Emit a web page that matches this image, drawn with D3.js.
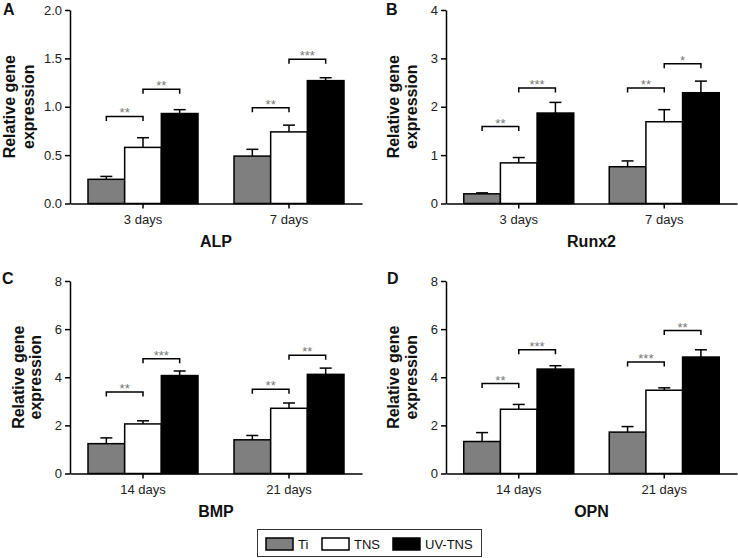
<!DOCTYPE html>
<html>
<head>
<meta charset="utf-8">
<script src="https://cdn.jsdelivr.net/npm/d3@7"></script>
<style>
  html, body { margin: 0; padding: 0; background: #fff; }
  svg { display: block; font-family: "Liberation Sans", Arial, Helvetica, sans-serif; }
</style>
</head>
<body>
<svg id="chart" width="738" height="558"></svg>
<script>
// ---------- data ----------
const seriesNames = ["Ti", "TNS", "UV-TNS"];

const alpCategories = ["3 days", "7 days"];
const alpMeans  = [[0.25, 0.58, 0.93], [0.49, 0.74, 1.27]];
const alpErrors = [[0.03, 0.10, 0.04], [0.07, 0.07, 0.03]];
const alpSig = [
  { group: 0, from: 0, to: 1, level: 0.90, label: "**" },
  { group: 0, from: 1, to: 2, level: 1.18, label: "**" },
  { group: 1, from: 0, to: 1, level: 0.99, label: "**" },
  { group: 1, from: 1, to: 2, level: 1.49, label: "***" }
];
const alpTicks = [0, 0.5, 1.0, 1.5, 2.0];

const runxCategories = ["3 days", "7 days"];
const runxMeans  = [[0.20, 0.84, 1.87], [0.76, 1.69, 2.29]];
const runxErrors = [[0.02, 0.11, 0.22], [0.12, 0.25, 0.24]];
const runxSig = [
  { group: 0, from: 0, to: 1, level: 1.59, label: "**" },
  { group: 0, from: 1, to: 2, level: 2.39, label: "***" },
  { group: 1, from: 0, to: 1, level: 2.39, label: "**" },
  { group: 1, from: 1, to: 2, level: 2.89, label: "*" }
];
const runxTicks = [0, 1, 2, 3, 4];

const bmpCategories = ["14 days", "21 days"];
const bmpMeans  = [[1.24, 2.06, 4.07], [1.40, 2.71, 4.12]];
const bmpErrors = [[0.24, 0.13, 0.19], [0.18, 0.22, 0.26]];
const bmpSig = [
  { group: 0, from: 0, to: 1, level: 3.39, label: "**" },
  { group: 0, from: 1, to: 2, level: 4.77, label: "***" },
  { group: 1, from: 0, to: 1, level: 3.50, label: "**" },
  { group: 1, from: 1, to: 2, level: 4.91, label: "**" }
];
const bmpTicks = [0, 2, 4, 6, 8];

const opnCategories = ["14 days", "21 days"];
const opnMeans  = [[1.33, 2.67, 4.34], [1.72, 3.46, 4.84]];
const opnErrors = [[0.37, 0.20, 0.14], [0.23, 0.10, 0.30]];
const opnSig = [
  { group: 0, from: 0, to: 1, level: 3.74, label: "**" },
  { group: 0, from: 1, to: 2, level: 5.14, label: "***" },
  { group: 1, from: 0, to: 1, level: 4.63, label: "***" },
  { group: 1, from: 1, to: 2, level: 5.94, label: "**" }
];
const opnTicks = [0, 2, 4, 6, 8];

const yLabelLines = ["Relative gene", "expression"];

// ---------- styles / layout ----------
const seriesFill = { "Ti": "#7f7f7f", "TNS": "#ffffff", "UV-TNS": "#000000" };

const panels = [
  { letter: "A", title: "ALP", cats: alpCategories, means: alpMeans, errs: alpErrors, sig: alpSig, ticks: alpTicks, fmt: d3.format(".1f"),
    left: 70, right: 362, top: 10, bottom: 203.5, letterX: 3, letterY: 15, labX1: 15, labX2: 33.5 },
  { letter: "B", title: "Runx2", cats: runxCategories, means: runxMeans, errs: runxErrors, sig: runxSig, ticks: runxTicks, fmt: d3.format("d"),
    left: 446, right: 737, top: 10, bottom: 203.5, letterX: 386, letterY: 15, labX1: 399, labX2: 416.5 },
  { letter: "C", title: "BMP", cats: bmpCategories, means: bmpMeans, errs: bmpErrors, sig: bmpSig, ticks: bmpTicks, fmt: d3.format("d"),
    left: 70, right: 362, top: 281, bottom: 473.5, letterX: 2, letterY: 284, labX1: 23.5, labX2: 41 },
  { letter: "D", title: "OPN", cats: opnCategories, means: opnMeans, errs: opnErrors, sig: opnSig, ticks: opnTicks, fmt: d3.format("d"),
    left: 446, right: 737, top: 281, bottom: 473.5, letterX: 387, letterY: 284, labX1: 399, labX2: 416.5 }
];

const svg = d3.select("#chart");

panels.forEach(p => {
  const g = svg.append("g");
  const x = d3.scaleBand().domain(p.cats).range([p.left, p.right]).padding(0);
  const xi = d3.scaleBand().domain(seriesNames).range([-55, 55]).padding(0);
  const y = d3.scaleLinear().domain([0, p.ticks[p.ticks.length - 1]]).range([p.bottom, p.top]);
  const cx = (gi, si) => x(p.cats[gi]) + x.bandwidth() / 2 + xi(seriesNames[si]) + xi.bandwidth() / 2;

  const rows = [];
  p.cats.forEach((c, gi) => seriesNames.forEach((s, si) => rows.push({ c, s, gi, si, v: p.means[gi][si], e: p.errs[gi][si] })));

  // error bars (upper only)
  const eb = g.append("g").attr("stroke", "#000").attr("stroke-width", 1.5).attr("fill", "none");
  rows.forEach(r => {
    const xc = cx(r.gi, r.si);
    eb.append("line").attr("x1", xc).attr("x2", xc).attr("y1", y(r.v)).attr("y2", y(r.v + r.e));
    eb.append("line").attr("x1", xc - 6).attr("x2", xc + 6).attr("y1", y(r.v + r.e)).attr("y2", y(r.v + r.e));
  });

  // bars
  g.append("g").selectAll("rect").data(rows).join("rect")
    .attr("x", r => x(r.c) + x.bandwidth() / 2 + xi(r.s))
    .attr("width", xi.bandwidth())
    .attr("y", r => y(r.v))
    .attr("height", r => y(0) - y(r.v))
    .attr("fill", r => seriesFill[r.s])
    .attr("stroke", "#000")
    .attr("stroke-width", 1.5);

  // axes
  const ya = g.append("g").attr("transform", `translate(${p.left},0)`)
    .call(d3.axisLeft(y).tickValues(p.ticks).tickFormat(p.fmt).tickSize(5).tickSizeOuter(0).tickPadding(3));
  const xa = g.append("g").attr("transform", `translate(0,${p.bottom})`)
    .call(d3.axisBottom(x).tickSize(5).tickSizeOuter(0).tickPadding(6));
  [ya, xa].forEach(a => {
    a.selectAll("path, line").attr("stroke", "#000").attr("stroke-width", 1.5);
    a.selectAll("text").attr("fill", "#222").style("font-size", "13px").style("font-family", "'Liberation Sans', Arial, sans-serif");
  });

  // significance brackets
  p.sig.forEach(sg => {
    const x1 = cx(sg.group, sg.from), x2 = cx(sg.group, sg.to), yy = y(sg.level);
    g.append("path")
      .attr("d", `M${x1},${yy + 4.5}V${yy}H${x2}V${yy + 4.5}`)
      .attr("fill", "none").attr("stroke", "#000").attr("stroke-width", 1.5);
    g.append("text").attr("x", (x1 + x2) / 2).attr("y", yy + 1)
      .attr("text-anchor", "middle").attr("fill", "#777").style("font-size", "13px")
      .text(sg.label);
  });

  // y label
  const ymid = (p.top + p.bottom) / 2;
  [p.labX1, p.labX2].forEach((lx, i) => {
    g.append("text").attr("transform", `translate(${lx},${ymid}) rotate(-90)`)
      .attr("text-anchor", "middle").attr("font-weight", "bold").style("font-size", "16px").attr("fill", "#111")
      .text(yLabelLines[i]);
  });

  // title
  g.append("text").attr("x", (p.left + p.right) / 2).attr("y", p.bottom + 43)
    .attr("text-anchor", "middle").attr("font-weight", "bold").style("font-size", "16px").attr("fill", "#111")
    .text(p.title);

  // panel letter
  g.append("text").attr("x", p.letterX).attr("y", p.letterY)
    .attr("font-weight", "bold").style("font-size", "16px").attr("fill", "#111")
    .text(p.letter);
});

// legend
const lg = svg.append("g");
lg.append("rect").attr("x", 257.5).attr("y", 529.5).attr("width", 224).attr("height", 27)
  .attr("fill", "#fff").attr("stroke", "#333").attr("stroke-width", 1);
const legendX = d3.scaleOrdinal().domain(seriesNames).range([266, 322, 393]);
seriesNames.forEach(s => {
  lg.append("rect").attr("x", legendX(s)).attr("y", 538).attr("width", 27).attr("height", 12)
    .attr("fill", seriesFill[s]).attr("stroke", "#000").attr("stroke-width", 1.5);
  lg.append("text").attr("x", legendX(s) + 32).attr("y", 549)
    .attr("fill", "#111").style("font-size", "13px").text(s);
});
</script>
</body>
</html>
